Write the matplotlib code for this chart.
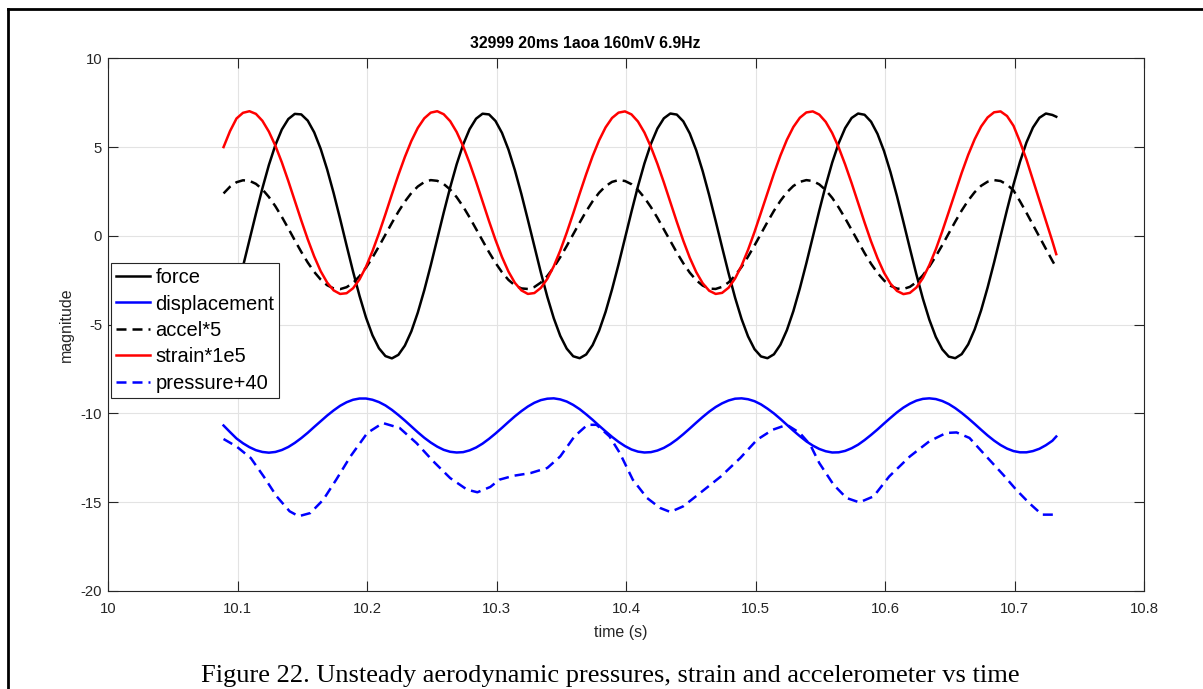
import matplotlib
matplotlib.use("Agg")
import matplotlib.pyplot as plt
from matplotlib.lines import Line2D

plt.rcParams['font.family'] = ['Liberation Sans', 'DejaVu Sans']

# readings on the 10 ms grid
time = [10.089, 10.099, 10.109, 10.119, 10.129, 10.139, 10.149, 10.159, 10.169, 10.179,
        10.189, 10.199, 10.209, 10.219, 10.229, 10.239, 10.249, 10.259, 10.269, 10.279,
        10.289, 10.299, 10.309, 10.319, 10.329, 10.339, 10.349, 10.359, 10.369, 10.379,
        10.389, 10.399, 10.409, 10.419, 10.429, 10.439, 10.449, 10.459, 10.469, 10.479,
        10.489, 10.499, 10.509, 10.519, 10.529, 10.539, 10.549, 10.559, 10.569, 10.579,
        10.589, 10.599, 10.609, 10.619, 10.629, 10.639, 10.649, 10.659, 10.669, 10.679,
        10.689, 10.699, 10.709, 10.719, 10.729, 10.732]

force = [-5.42, -3.12, -0.24, 2.68, 5.11, 6.58, 6.84, 5.83, 3.74, 0.96,
         -2.01, -4.60, -6.33, -6.90, -6.18, -4.32, -1.66, 1.31, 4.03, 6.01,
         6.88, 6.47, 4.86, 2.35, -0.59, -3.43, -5.63, -6.78, -6.68, -5.34,
         -3.01, -0.13, 2.79, 5.18, 6.62, 6.83, 5.77, 3.64, 0.84, -2.11,
         -4.68, -6.38, -6.89, -6.13, -4.24, -1.55, 1.42, 4.13, 6.07, 6.89,
         6.43, 4.78, 2.24, -0.71, -3.53, -5.69, -6.80, -6.66, -5.27, -2.91,
         -0.01, 2.89, 5.26, 6.65, 6.81, 6.71]

displacement = [-10.68, -11.41, -11.90, -12.17, -12.17, -11.89, -11.39, -10.76, -10.12, -9.57,
                -9.23, -9.16, -9.36, -9.80, -10.40, -11.06, -11.64, -12.05, -12.20, -12.08,
                -11.70, -11.13, -10.48, -9.87, -9.40, -9.17, -9.21, -9.52, -10.05, -10.69,
                -11.32, -11.84, -12.15, -12.18, -11.94, -11.47, -10.85, -10.20, -9.64, -9.27,
                -9.15, -9.31, -9.73, -10.31, -10.97, -11.57, -12.00, -12.20, -12.11, -11.76,
                -11.21, -10.57, -9.94, -9.45, -9.18, -9.19, -9.47, -9.97, -10.59, -11.24,
                -11.78, -12.12, -12.19, -11.99, -11.54, -11.30]

accel = [2.39, 3.02, 3.10, 2.62, 1.67, 0.42, -0.90, -2.03, -2.78, -3.00,
         -2.65, -1.79, -0.59, 0.73, 1.93, 2.78, 3.14, 2.92, 2.18, 1.04,
         -0.27, -1.52, -2.48, -2.96, -2.88, -2.26, -1.20, 0.09, 1.38, 2.43,
         3.04, 3.09, 2.59, 1.62, 0.37, -0.94, -2.07, -2.80, -2.99, -2.62,
         -1.75, -0.54, 0.78, 1.97, 2.81, 3.14, 2.90, 2.14, 0.99, -0.32,
         -1.57, -2.51, -2.97, -2.87, -2.22, -1.15, 0.14, 1.43, 2.46, 3.05,
         3.09, 2.56, 1.30, -0.05, -1.40, -1.78]

strain = [5.00, 6.61, 7.02, 6.48, 5.08, 3.09, 0.87, -1.16, -2.63, -3.27,
          -2.95, -1.74, 0.14, 2.34, 4.44, 6.08, 6.94, 6.85, 5.85, 4.10,
          1.94, -0.23, -2.01, -3.07, -3.22, -2.42, -0.83, 1.26, 3.47, 5.38,
          6.64, 7.01, 6.44, 5.01, 3.01, 0.79, -1.23, -2.67, -3.27, -2.92,
          -1.68, 0.22, 2.42, 4.52, 6.13, 6.95, 6.83, 5.79, 4.02, 1.86,
          -0.31, -2.07, -3.10, -3.21, -2.38, -0.76, 1.35, 3.55, 5.44, 6.67,
          7.01, 6.20, 4.30, 2.00, -0.30, -1.03]

# extra readings half way between the grid points
time_mid = [10.094, 10.104, 10.114, 10.124, 10.134, 10.144, 10.154, 10.164, 10.174, 10.184,
            10.194, 10.204, 10.214, 10.224, 10.234, 10.244, 10.254, 10.264, 10.274, 10.284,
            10.294, 10.304, 10.314, 10.324, 10.334, 10.344, 10.354, 10.364, 10.374, 10.384,
            10.394, 10.404, 10.414, 10.424, 10.434, 10.444, 10.454, 10.464, 10.474, 10.484,
            10.494, 10.504, 10.514, 10.524, 10.534, 10.544, 10.554, 10.564, 10.574, 10.584,
            10.594, 10.604, 10.614, 10.624, 10.634, 10.644, 10.654, 10.664, 10.674, 10.684,
            10.694, 10.704, 10.714, 10.724]

force_mid = [-4.37, -1.72, 1.25, 3.99, 5.99, 6.87, 6.49, 4.90, 2.41, -0.54,
             -3.38, -5.60, -6.77, -6.70, -5.38, -3.06, -0.18, 2.73, 5.14, 6.60,
             6.84, 5.80, 3.69, 0.90, -2.06, -4.64, -6.35, -6.89, -6.15, -4.28,
             -1.61, 1.36, 4.08, 6.04, 6.89, 6.45, 4.82, 2.29, -0.65, -3.48,
             -5.66, -6.79, -6.67, -5.31, -2.96, -0.07, 2.84, 5.22, 6.64, 6.82,
             5.74, 3.59, 0.78, -2.17, -4.72, -6.39, -6.89, -6.11, -4.19, -1.50,
             1.47, 4.17, 6.10, 6.89]

displacement_mid = [-11.05, -11.68, -12.07, -12.21, -12.06, -11.66, -11.09, -10.44, -9.83, -9.37,
                    -9.16, -9.23, -9.55, -10.09, -10.73, -11.37, -11.87, -12.16, -12.18, -11.92,
                    -11.43, -10.81, -10.16, -9.61, -9.25, -9.15, -9.33, -9.76, -10.36, -11.01,
                    -11.60, -12.03, -12.20, -12.09, -11.73, -11.17, -10.52, -9.90, -9.43, -9.17,
                    -9.20, -9.49, -10.00, -10.64, -11.28, -11.81, -12.13, -12.19, -11.96, -11.50,
                    -10.90, -10.25, -9.67, -9.28, -9.15, -9.30, -9.70, -10.27, -10.92, -11.53,
                    -11.98, -12.19, -12.12, -11.79]

accel_mid = [2.77, 3.13, 2.93, 2.19, 1.07, -0.25, -1.50, -2.46, -2.96, -2.89,
             -2.27, -1.22, 0.07, 1.36, 2.41, 3.03, 3.10, 2.61, 1.65, 0.39,
             -0.92, -2.05, -2.79, -2.99, -2.63, -1.77, -0.57, 0.75, 1.95, 2.80,
             3.14, 2.91, 2.15, 1.02, -0.29, -1.54, -2.50, -2.97, -2.87, -2.24,
             -1.17, 0.12, 1.41, 2.45, 3.04, 3.09, 2.58, 1.60, 0.34, -0.97,
             -2.09, -2.81, -2.99, -2.61, -1.73, -0.52, 0.80, 1.99, 2.82, 3.14,
             2.89, 1.95, 0.62, -0.73]

strain_mid = [5.90, 6.93, 6.87, 5.87, 4.14, 1.98, -0.19, -1.99, -3.07, -3.23,
              -2.45, -0.86, 1.22, 3.43, 5.34, 6.62, 7.02, 6.46, 5.05, 3.05,
              0.83, -1.19, -2.65, -3.27, -2.93, -1.71, 0.18, 2.38, 4.49, 6.11,
              6.94, 6.84, 5.82, 4.06, 1.90, -0.27, -2.04, -3.09, -3.21, -2.40,
              -0.79, 1.31, 3.51, 5.41, 6.65, 7.01, 6.42, 4.98, 2.97, 0.75,
              -1.26, -2.69, -3.28, -2.91, -1.65, 0.26, 2.46, 4.56, 6.16, 6.96,
              6.75, 5.30, 3.15, 0.85]

# pressure is irregular, read point by point
pressure_time = [10.089, 10.099, 10.110, 10.120, 10.130, 10.140, 10.147, 10.156, 10.166, 10.176,
                 10.187, 10.200, 10.212, 10.225, 10.238, 10.251, 10.264, 10.277, 10.285, 10.295,
                 10.302, 10.313, 10.326, 10.339, 10.349, 10.360, 10.370, 10.377, 10.387, 10.395,
                 10.405, 10.416, 10.426, 10.434, 10.444, 10.457, 10.473, 10.488, 10.501, 10.513,
                 10.524, 10.534, 10.542, 10.549, 10.560, 10.570, 10.580, 10.591, 10.603, 10.619,
                 10.634, 10.647, 10.655, 10.665, 10.678, 10.691, 10.701, 10.711, 10.721, 10.732]
pressure = [-11.44, -11.86, -12.51, -13.55, -14.67, -15.51, -15.79, -15.61, -14.86, -13.73,
            -12.42, -11.10, -10.54, -10.82, -11.67, -12.70, -13.64, -14.29, -14.44, -14.14,
            -13.73, -13.51, -13.36, -13.07, -12.42, -11.29, -10.64, -10.64, -11.29, -12.23,
            -13.73, -14.76, -15.32, -15.55, -15.23, -14.48, -13.55, -12.51, -11.48, -10.92,
            -10.64, -11.10, -11.76, -12.79, -14.01, -14.76, -15.01, -14.67, -13.55, -12.42,
            -11.57, -11.10, -11.07, -11.38, -12.42, -13.45, -14.29, -15.04, -15.70, -15.70]

xticks = [10, 10.1, 10.2, 10.3, 10.4, 10.5, 10.6, 10.7, 10.8]
xlabels = ['10', '10.1', '10.2', '10.3', '10.4', '10.5', '10.6', '10.7', '10.8']
yticks = [-20, -15, -10, -5, 0, 5, 10]
ylabels = ['-20', '-15', '-10', '-5', '0', '5', '10']


def merge(t1, y1, t2, y2):
    pts = sorted(zip(t1 + t2, y1 + y2))
    return [p[0] for p in pts], [p[1] for p in pts]


W, H = 1203, 689
fig = plt.figure(figsize=(W / 100, H / 100), dpi=100)
ax = fig.add_axes([108.3 / W, 1 - 591 / H, (1144.3 - 108.3) / W, (591 - 58.3) / H])

lw = 1.8
dash = (4.0, 2.4)
t, y = merge(time, force, time_mid, force_mid)
ax.plot(t, y, color='k', lw=lw, label='force')
t, y = merge(time, displacement, time_mid, displacement_mid)
ax.plot(t, y, color='#0000ff', lw=lw, label='displacement')
t, y = merge(time, accel, time_mid, accel_mid)
ax.plot(t, y, color='k', lw=lw, dashes=dash, label='accel*5')
t, y = merge(time, strain, time_mid, strain_mid)
ax.plot(t, y, color='#ff0000', lw=lw, label='strain*1e5')
ax.plot(pressure_time, pressure, color='#0000ff', lw=lw, dashes=dash, label='pressure+40')

ax.set_xlim(10, 10.8)
ax.set_ylim(-20, 10)
ax.set_xticks(xticks)
ax.set_xticklabels(xlabels)
ax.set_yticks(yticks)
ax.set_yticklabels(ylabels)

axcol = '#262626'
for s in ax.spines.values():
    s.set_color(axcol)
    s.set_linewidth(0.8)
ax.tick_params(direction='in', length=7.2, width=0.8, colors=axcol, labelsize=10.7,
               top=True, right=True)
ax.tick_params(axis='x', pad=8)
ax.tick_params(axis='y', pad=4.5)
ax.grid(True, color='#e3e3e3', lw=0.8)
ax.set_axisbelow(True)

ax.set_xlabel('time (s)', fontsize=11.5, color=axcol)
ax.xaxis.set_label_coords(0.495, -0.064)
ax.set_ylabel('magnitude', fontsize=11.5, color=axcol)
ax.yaxis.set_label_coords(-0.033, 0.5)

ax.text((585 - 108.3) / 1036, 1.027, '32999 20ms 1aoa 160mV 6.9Hz', transform=ax.transAxes,
        ha='center', va='center', fontsize=11.3, fontweight='bold', color='k')

leg = ax.legend(loc='upper left', bbox_to_anchor=(0.0026, 0.6157), borderaxespad=0,
                fontsize=14.5, fancybox=False, edgecolor=axcol, framealpha=1,
                handlelength=1.7, handletextpad=0.25, labelspacing=0.37, borderpad=0.25)
leg.get_frame().set_linewidth(0.8)

# page border and caption
fig.add_artist(Line2D([8 / W, 1], [1 - 9 / H, 1 - 9 / H], transform=fig.transFigure, color='k', lw=2))
fig.add_artist(Line2D([8 / W, 8 / W], [0, 1 - 9 / H], transform=fig.transFigure, color='k', lw=2))
fig.text(610 / W, 1 - 676 / H,
         'Figure 22. Unsteady aerodynamic pressures, strain and accelerometer vs time',
         ha='center', va='center', fontsize=19, family='Liberation Serif', color='k')

fig.savefig('out.png', dpi=100)
